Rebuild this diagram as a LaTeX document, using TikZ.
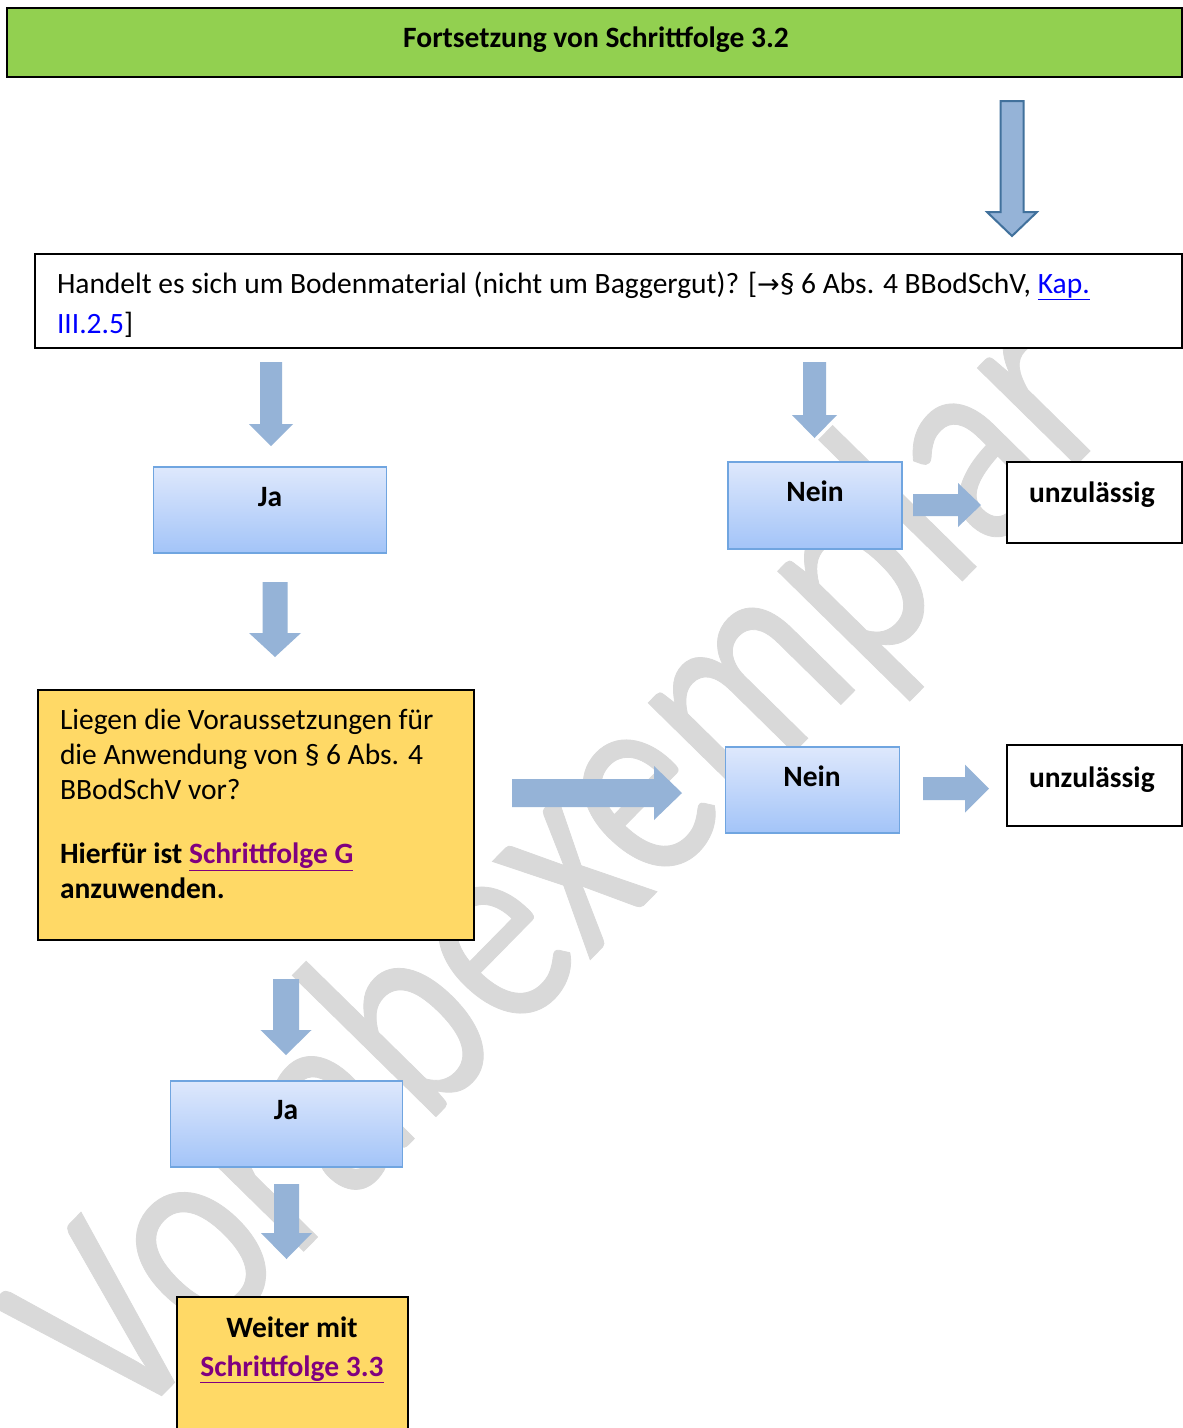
\documentclass[tikz,border=0pt]{standalone}
\usepackage{fontspec}
\setmainfont{Carlito}
\newfontfamily\symfont{DejaVu Sans}
\newfontface\wmfont[FakeBold=0.3]{Carlito}
\usetikzlibrary{calc}

\definecolor{headgreen}{HTML}{92D050}
\definecolor{noteyellow}{HTML}{FFD966}
\definecolor{arrowblue}{HTML}{95B3D7}
\definecolor{arrowline}{HTML}{41719C}
\definecolor{boxtop}{HTML}{DEE8FC}
\definecolor{boxbot}{HTML}{A3C4F8}
\definecolor{boxline}{HTML}{70A5E0}
\definecolor{linkblue}{HTML}{0000FF}
\definecolor{linkpurple}{HTML}{800080}
\definecolor{wmgray}{HTML}{D9D9D9}

\newcommand\fsz[2]{\fontsize{#1}{#2}\selectfont}

\tikzset{
  x=1pt, y=-1pt,
  every node/.style={inner sep=0pt, outer sep=0pt},
  frame/.style={draw=black, line width=2.5pt, anchor=north west},
  headbox/.style={frame, fill=headgreen, line width=2pt},
  qbox/.style={frame, fill=white},
  notebox/.style={frame, fill=noteyellow},
  endbox/.style={frame, fill=white},
  answer/.style={draw=boxline, line width=1.2pt, anchor=north west,
    top color=boxtop, bottom color=boxbot},
  txt/.style={anchor=base west, font=\fsz{29.5}{34}},
  btxt/.style={anchor=base, font=\bfseries\fsz{29.5}{34}},
  bltxt/.style={anchor=base west, font=\bfseries\fsz{29.5}{34}},
  % block arrows: length / head start / shaft half width / head half width
  pics/downarrow/.style args={#1/#2/#3/#4}{code={
    \fill[arrowblue] (-#3,0) -- (#3,0) -- (#3,#2) -- (#4,#2) -- (0,#1)
      -- (-#4,#2) -- (-#3,#2) -- cycle;}},
  pics/rightarrow/.style args={#1/#2/#3/#4}{code={
    \fill[arrowblue] (0,-#3) -- (0,#3) -- (#2,#3) -- (#2,#4) -- (#1,0)
      -- (#2,-#4) -- (#2,-#3) -- cycle;}},
}

\newcommand\linkb[1]{\textcolor{linkblue}{\underline{#1}}}
\newcommand\linkp[1]{\textcolor{linkpurple}{\underline{#1}}}

\begin{document}
\begin{tikzpicture}
\useasboundingbox (0,0) rectangle (1183,1428);
\fill[white] (0,0) rectangle (1183,1428);

% watermark behind everything
\node[anchor=base west, rotate=45.5, yscale=1.25, text=wmgray, font=\wmfont\fsz{232}{232}] (wm) at (122,1436) {Vorabexemplar};

% header
\node[headbox, minimum width=1175, minimum height=69] (head) at (7,8) {};
\node[btxt] (headtxt) at (596,47.5) {Fortsetzung von Schrittfolge 3.2};

% entry arrow (outlined)
\filldraw[fill=arrowblue, draw=arrowline, line width=2pt]
  (1000.5,101) -- (1023.5,101) -- (1023.5,212) -- (1037,212) -- (1012,236)
  -- (987,212) -- (1000.5,212) -- cycle;

% question
\node[qbox, minimum width=1147, minimum height=94] (q) at (35,254) {};
\node[txt] (q1) at (57,293.5) {Handelt es sich um Bodenmaterial (nicht um Baggergut)? [{\symfont\fsz{27}{34}→}§ 6 Abs. 4 BBodSchV, \linkb{Kap.}};
\node[txt] (q2) at (57,333.5) {\textcolor{linkblue}{III.2.5}]};

% left branch: Ja
\pic at (271,362) {downarrow={84/62/11/22}};
\node[answer, minimum width=233, minimum height=86] (ja1) at (153.5,467) {};
\node[btxt] (ja1t) at (270,506.5) {Ja};
\pic at (275,582) {downarrow={75/51/12.5/26}};

% right branch: Nein -> unzulaessig
\pic at (814.5,362) {downarrow={76/53/11.5/22.5}};
\node[answer, minimum width=174, minimum height=87] (nein1) at (728,462) {};
\node[btxt] (nein1t) at (815,501.5) {Nein};
\pic at (913,505) {rightarrow={68/45/11/22}};
\node[endbox, minimum width=175, minimum height=81] (unz1) at (1007,462) {};
\node[bltxt] (unz1t) at (1029,502) {unzulässig};

% condition box
\node[notebox, minimum width=436, minimum height=250] (cond) at (38,690) {};
\node[txt] (c1) at (60,729.5) {Liegen die Voraussetzungen für};
\node[txt] (c2) at (60,764.5) {die Anwendung von § 6 Abs. 4};
\node[txt] (c3) at (60,799.5) {BBodSchV vor?};
\node[bltxt] (c4) at (60,863.5) {Hierfür ist \linkp{Schrittfolge G}};
\node[bltxt] (c5) at (60,898.5) {anzuwenden.};

% condition not met
\pic at (512,793) {rightarrow={170/142/14/27}};
\node[answer, minimum width=174, minimum height=86] (nein2) at (725.5,747) {};
\node[btxt] (nein2t) at (812,786.5) {Nein};
\pic at (923,788.5) {rightarrow={66/42/11.5/24}};
\node[endbox, minimum width=175, minimum height=81] (unz2) at (1007,745) {};
\node[bltxt] (unz2t) at (1029,787) {unzulässig};

% condition met
\pic at (286,979) {downarrow={76/51/13/25.5}};
\node[answer, minimum width=232, minimum height=86] (ja2) at (170.5,1081) {};
\node[btxt] (ja2t) at (286,1119.5) {Ja};
\pic at (286.5,1184) {downarrow={75/49/12.5/25.5}};

% continuation
\node[notebox, minimum width=231, minimum height=160] (next) at (177,1297) {};
\node[btxt] (next1) at (292,1337) {Weiter mit};
\node[btxt] (next2) at (292,1376) {\linkp{Schrittfolge 3.3}};
\end{tikzpicture}
\end{document}
